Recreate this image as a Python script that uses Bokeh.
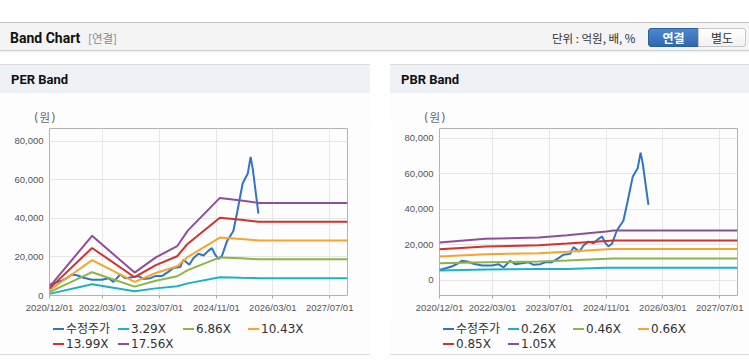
import pandas as pd
from bokeh.plotting import figure
from bokeh.layouts import column, row
from bokeh.models import (Div, Spacer, FixedTicker, DatetimeTickFormatter,
                          NumeralTickFormatter, Range1d, ColumnDataSource)
from bokeh.embed import file_html
from bokeh.resources import INLINE

# ---------------- data ----------------
PRICE_LABEL = "수정주가"
PRICE_DATES = ["2020-12-01", "2021-01-15", "2021-02-16", "2021-03-20", "2021-04-29",
               "2021-06-11", "2021-07-24", "2021-09-19", "2021-11-30", "2022-02-23",
               "2022-04-21", "2022-06-03", "2022-07-30", "2022-09-11", "2022-11-21",
               "2023-01-03", "2023-02-15", "2023-04-14", "2023-05-27", "2023-07-23",
               "2023-09-18", "2023-10-30", "2023-12-27", "2024-01-24", "2024-03-14",
               "2024-04-19", "2024-06-01", "2024-07-14", "2024-08-26", "2024-09-24",
               "2024-10-22", "2024-11-19", "2024-12-19", "2025-01-30", "2025-03-27",
               "2025-04-28", "2025-06-15", "2025-07-28", "2025-08-22", "2025-09-10",
               "2025-10-28"]
PRICE = [5700, 6500, 7100, 7800, 9000,
         10900, 10500, 9200, 8200, 8200,
         9000, 7100, 10900, 9000, 9600,
         10100, 8600, 9000, 10100, 10100,
         12400, 14300, 14800, 18600, 16000,
         19500, 21700, 20800, 23300, 24600,
         21200, 19000, 20500, 28000, 33500,
         43000, 58300, 63200, 72000, 65500,
         42500]

PER_DATES = ["2020-12-01", "2021-12-01", "2022-12-01", "2023-06-01", "2023-12-01",
             "2024-03-01", "2024-12-01", "2025-06-01", "2025-10-31", "2027-12-01"]
PER_LABELS = ["3.29X", "6.86X", "10.43X", "13.99X", "17.56X"]
PER_3_29 = [850, 5800, 2200, 3700, 4800, 6300, 9500, 9200, 9000, 9000]
PER_6_86 = [1800, 12100, 4600, 7700, 10000, 13200, 19800, 19300, 18800, 18800]
PER_10_43 = [2700, 18400, 7100, 11700, 15200, 20000, 30100, 29300, 28600, 28600]
PER_13_99 = [3600, 24700, 9500, 15800, 20400, 26900, 40400, 39300, 38300, 38300]
PER_17_56 = [4500, 31000, 11900, 19800, 25600, 33700, 50700, 49300, 48100, 48100]

PBR_DATES = ["2020-12-01", "2022-01-01", "2023-04-01", "2023-12-01", "2024-11-01",
             "2025-01-01", "2027-12-01"]
PBR_LABELS = ["0.26X", "0.46X", "0.66X", "0.85X", "1.05X"]
PBR_0_26 = [5400, 6000, 6200, 6300, 6900, 7000, 7000]
PBR_0_46 = [9500, 10100, 10500, 11000, 12000, 12200, 12200]
PBR_0_66 = [13300, 14600, 15200, 16000, 17400, 17500, 17500]
PBR_0_85 = [17400, 18900, 19700, 20700, 22100, 22300, 22300]
PBR_1_05 = [21200, 23400, 24000, 25300, 27400, 28000, 28000]

X_TICKS = ["2020-12-01", "2022-03-01", "2023-07-01", "2024-11-01", "2026-03-01", "2027-07-01"]
X_START, X_END = "2020-12-01", "2027-12-01"
Y_TICKS = [0, 20000, 40000, 60000, 80000]
UNIT_LABEL = "(원)"

COLORS = ["#2f74c6", "#1bb2c7", "#8db546", "#f5a52b", "#d1322c", "#8e4e9c"]

FIG_H = 195
MB_TOP, MB_BOTTOM, MB_LEFT = 5, 23, 49
BG = "#fdfdfd"


def ms(d):
    return int(pd.Timestamp(d).value // 10**6)


def make_fig(width, mb_right, band_dates, bands, y0, y1):
    p = figure(width=width, height=FIG_H, x_axis_type="datetime",
               x_range=Range1d(start=ms(X_START), end=ms(X_END)),
               y_range=Range1d(start=y0, end=y1),
               output_backend="svg", toolbar_location=None,
               min_border_left=MB_LEFT, min_border_right=mb_right,
               min_border_top=MB_TOP, min_border_bottom=MB_BOTTOM,
               background_fill_color=BG, border_fill_color=BG, margin=0)
    p.outline_line_color = "#b3b3b3"

    xa = p.xaxis[0]
    xa.ticker = FixedTicker(ticks=[ms(d) for d in X_TICKS])
    fmt = "%Y/%m/%d"
    xa.formatter = DatetimeTickFormatter(microseconds=fmt, milliseconds=fmt, seconds=fmt,
                                         minsec=fmt, minutes=fmt, hourmin=fmt, hours=fmt,
                                         days=fmt, months=fmt, years=fmt)
    xa.axis_line_color = None
    xa.major_tick_line_color = "#aaaaaa"
    xa.major_tick_out = 3
    xa.major_tick_in = 0
    xa.minor_tick_out = 0
    xa.minor_tick_in = 0
    xa.major_label_standoff = 3
    xa.major_label_text_font = "Liberation Sans"
    xa.major_label_text_font_size = "9.5px"
    xa.major_label_text_color = "#555555"

    ya = p.yaxis[0]
    ya.ticker = FixedTicker(ticks=Y_TICKS)
    ya.formatter = NumeralTickFormatter(format="0,0")
    ya.axis_line_color = None
    ya.major_tick_out = 0
    ya.major_tick_in = 0
    ya.minor_tick_out = 0
    ya.minor_tick_in = 0
    ya.major_label_standoff = 6
    ya.major_label_text_font = "Liberation Sans"
    ya.major_label_text_font_size = "9.5px"
    ya.major_label_text_color = "#555555"

    p.xgrid.grid_line_color = "#e6e6e6"
    p.ygrid.grid_line_color = "#e6e6e6"

    src = ColumnDataSource(dict(x=pd.to_datetime(PRICE_DATES), y=PRICE))
    p.line("x", "y", source=src, color=COLORS[0], line_width=2)
    bx = pd.to_datetime(band_dates)
    for i, vals in enumerate(bands):
        s = ColumnDataSource(dict(x=bx, y=vals))
        p.line("x", "y", source=s, color=COLORS[i + 1], line_width=2)
    return p


def title_div(text, width):
    html = (f'<div style="position:relative;width:{width}px;height:29px;box-sizing:border-box;'
            f'background:#eef2f7;border-top:1px solid #d9d9d9;">'
            f'<div style="position:absolute;left:11px;top:6px;line-height:17px;white-space:nowrap;'
            f'font-family:Roboto,sans-serif;font-weight:bold;font-size:13px;color:#111;">{text}</div>'
            f'</div>')
    return Div(text=html, width=width, height=29, margin=0)


def unit_div(width):
    html = (f'<div style="position:relative;width:{width}px;height:30px;background:{BG};">'
            f'<div style="position:absolute;left:34px;top:17px;line-height:16px;white-space:nowrap;'
            f'font-family:\'DejaVu Sans\',\'Noto Sans CJK KR\',sans-serif;font-size:11.5px;'
            f'letter-spacing:1px;color:#666;">{UNIT_LABEL}</div>'
            f'</div>')
    return Div(text=html, width=width, height=30, margin=0)


def legend_div(labels, width):
    parts = [f'<div style="position:relative;width:{width}px;height:38px;background:{BG};">',
             f'<div style="position:absolute;left:0;top:36px;width:{width}px;height:1px;background:#d9d9d9;"></div>']
    for i, lab in enumerate(labels):
        r, c = divmod(i, 4)
        x = 53 + 65 * c
        yc = 11 + 15 * r
        parts.append(f'<div style="position:absolute;left:{x}px;top:{yc - 1}px;width:11px;'
                     f'height:2px;background:{COLORS[i]};"></div>')
        parts.append(f'<div style="position:absolute;left:{x + 13}px;top:{yc - 8}px;height:16px;'
                     f'line-height:16px;white-space:nowrap;font-family:\'DejaVu Sans\',\'Noto Sans CJK KR\',sans-serif;'
                     f'font-size:12px;color:#333;">{lab}</div>')
    parts.append('</div>')
    return Div(text="".join(parts), width=width, height=38, margin=0)


TOTAL_W = 749
header_html = (
    f'<div style="position:relative;width:{TOTAL_W}px;height:64px;background:#fff;overflow:hidden;">'
    f'<div style="position:absolute;left:0;top:22px;width:{TOTAL_W}px;height:29px;background:#f4f4f4;'
    'border-top:1px solid #c4c4c4;border-bottom:1px solid #cfcfcf;box-shadow:0 1px 2px rgba(0,0,0,0.08);"></div>'
    '<div style="position:absolute;left:10px;top:30px;line-height:17px;font-family:Roboto,sans-serif;'
    'font-weight:bold;font-size:14px;color:#111;white-space:nowrap;">Band Chart</div>'
    '<div style="position:absolute;left:88px;top:30px;line-height:17px;font-family:\'Noto Sans CJK KR\',sans-serif;'
    'font-size:11.5px;color:#8a8a8a;white-space:nowrap;">[연결]</div>'
    '<div style="position:absolute;left:552px;top:30px;line-height:17px;font-family:\'Noto Sans CJK KR\',sans-serif;'
    'font-size:11.5px;color:#333;white-space:nowrap;">단위 : 억원, 배, %</div>'
    '<div style="position:absolute;left:648px;top:28px;width:51px;height:19px;box-sizing:border-box;'
    'background:linear-gradient(#4b88cf,#2d68b0);border:1px solid #2b5f9e;border-radius:3px 0 0 3px;'
    'text-align:center;line-height:17px;font-family:\'Noto Sans CJK KR\',sans-serif;font-weight:bold;'
    'font-size:12px;color:#fff;">연결</div>'
    '<div style="position:absolute;left:698px;top:28px;width:48px;height:19px;box-sizing:border-box;'
    'background:linear-gradient(#ffffff,#f1f1f1);border:1px solid #c6c6c6;border-radius:0 3px 3px 0;'
    'text-align:center;line-height:17px;font-family:\'Noto Sans CJK KR\',sans-serif;'
    'font-size:12px;color:#333;">별도</div>'
    '</div>'
)
header = Div(text=header_html, width=TOTAL_W, height=64, margin=0)

LEFT_W, RIGHT_W = 370, 359
per_fig = make_fig(LEFT_W, 23, PER_DATES,
                   [PER_3_29, PER_6_86, PER_10_43, PER_13_99, PER_17_56], 0, 86750)
pbr_fig = make_fig(RIGHT_W, 12, PBR_DATES,
                   [PBR_0_26, PBR_0_46, PBR_0_66, PBR_0_85, PBR_1_05], -8700, 85600)

left = column(title_div("PER Band", LEFT_W), unit_div(LEFT_W), per_fig,
              legend_div([PRICE_LABEL] + PER_LABELS, LEFT_W), spacing=0)
right = column(title_div("PBR Band", RIGHT_W), unit_div(RIGHT_W), pbr_fig,
               legend_div([PRICE_LABEL] + PBR_LABELS, RIGHT_W), spacing=0)

layout = column(header, row(left, Spacer(width=20, height=292), right, spacing=0), spacing=0)

open("out.html", "w").write(file_html(layout, INLINE))
